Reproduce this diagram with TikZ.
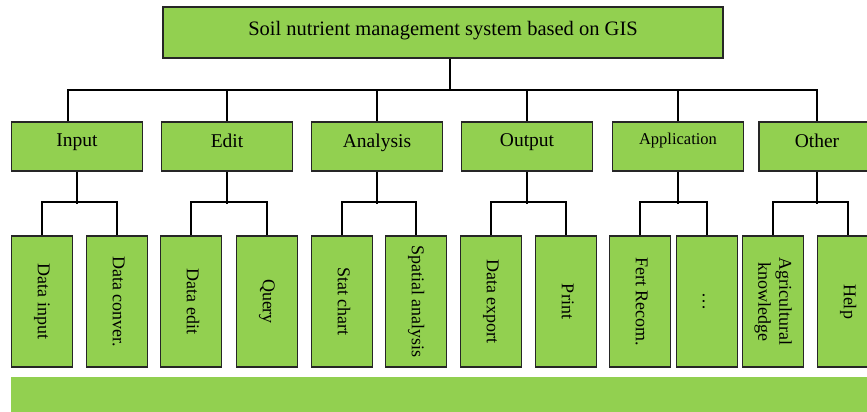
\documentclass[tikz,border=0pt]{standalone}
\usepackage{fontspec}
\setmainfont{Liberation Serif}
\usepackage{xcolor}
\usetikzlibrary{positioning,calc}
\definecolor{leafgreen}{HTML}{92D050}
\newcommand{\vlabel}[1]{\rotatebox{-90}{\begin{tabular}{@{}c@{}}#1\end{tabular}}}
\tikzset{
  box/.style={draw=black!85,line width=1.3pt,fill=leafgreen,align=center,inner sep=2pt},
  sysbox/.style={box,minimum width=560pt,minimum height=51pt,text depth=8pt,font=\fontsize{20.5}{23}\selectfont},
  modbox/.style={box,minimum width=131pt,minimum height=49pt,text depth=12pt,font=\fontsize{19.5}{22}\selectfont},
  leafbox/.style={box,minimum width=61pt,minimum height=131pt,font=\fontsize{18}{21}\selectfont},
  base/.style={fill=leafgreen,minimum width=870pt,minimum height=40pt,inner sep=0pt},
  conn/.style={line width=2pt,black},
}
\begin{document}
\begin{tikzpicture}[x=1pt,y=-1pt]
\useasboundingbox (0,0) rectangle (867,412);
\clip (0,0) rectangle (867,412);
% system
\node[sysbox] (sys) at (443,32.5) {Soil nutrient management system based on GIS};
% modules
\foreach \n/\x/\t in {inp/77/Input,edt/227/Edit,ana/377/Analysis,out/527/Output}
  \node[modbox] (\n) at (\x,146.5) {\t};
\node[modbox,text depth=15pt,font=\fontsize{16.5}{19}\selectfont] (app) at (678,146.5) {Application};
\node[modbox,minimum width=116pt] (oth) at (817,146.5) {Other};
\draw[conn] ([xshift=7pt]sys.south) -- ++(0,31) coordinate (bus);
\draw[conn] ([xshift=-9pt]inp.north) |- (bus) -| (oth.north);
\foreach \n in {edt,ana,out,app} \draw[conn] (\n.north) -- (\n.north |- bus);
% functions
\foreach \n/\x/\t in {c1/42/Data input,c2/117/Data conver.,c3/191/Data edit,c4/267/Query,
  c5/342/Stat chart,c6/416/Spatial analysis,c7/491/Data export,c8/566/Print,
  c9/640/Fert Recom.,c10/707/\dots,c11/773/{Agricultural\\knowledge},c12/848/Help}
  \node[leafbox] (\n) at (\x,301.5) {\vlabel{\t}};
\foreach \p/\a/\b in {inp/c1/c2,edt/c3/c4,ana/c5/c6,out/c7/c8,app/c9/c10,oth/c11/c12}
  \draw[conn] (\a.north) -- ++(0,-33) -| (\b.north) (\p.south) -- ++(0,32);
% base
\node[base,anchor=north west] (bar) at (11,377) {};
\end{tikzpicture}
\end{document}
